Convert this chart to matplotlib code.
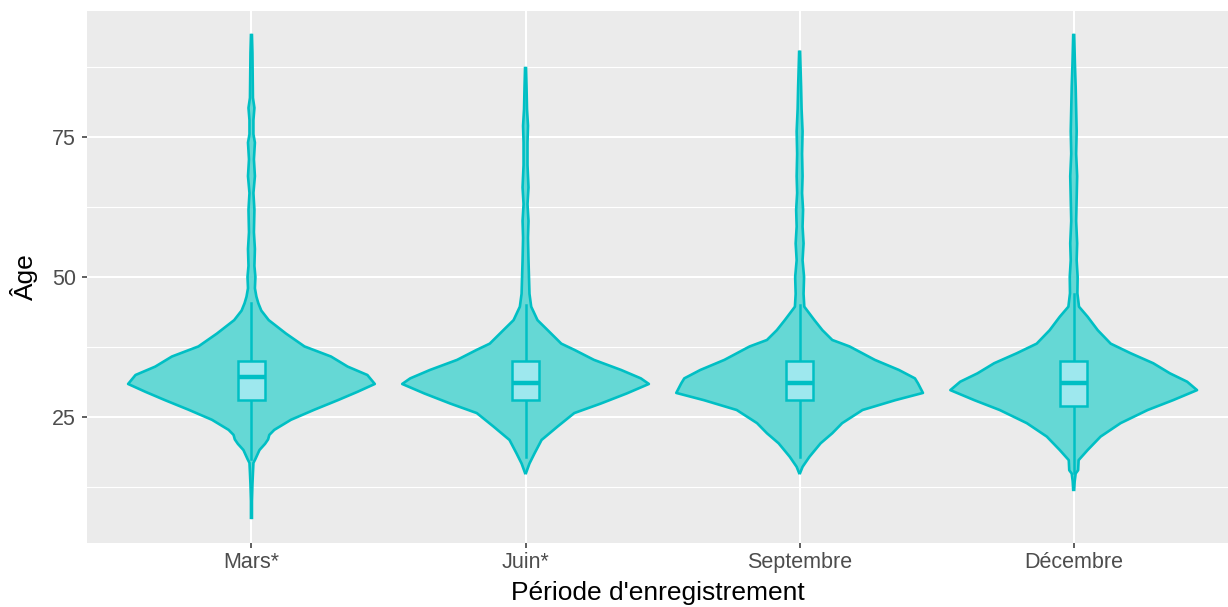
import matplotlib
matplotlib.use('Agg')
from matplotlib import pyplot as plt
from matplotlib.patches import Rectangle

plt.rcParams['font.family'] = ['Liberation Sans', 'DejaVu Sans']

# Categories
months = ['Mars*', 'Juin*', 'Septembre', 'Décembre']

# Violin outlines: age and relative density (1 = widest point)
mars_age = [7.0, 10, 13, 15, 16.8, 17.5, 19.1, 20.2, 21.0, 21.8, 22.7, 24.5, 26.3, 28.0,
            29.5, 30.9, 32.5, 34.0, 35.8, 37.6, 39.9, 42.3, 44.0, 45.3, 46.5, 48, 50, 52,
            55, 58, 62, 65, 68, 71, 74, 75.5, 78, 80.2, 82, 86, 90, 93.2]
mars_dens = [0.004, 0.004, 0.008, 0.012, 0.016, 0.032, 0.065, 0.11, 0.135, 0.145, 0.185,
             0.32, 0.51, 0.70, 0.86, 1.0, 0.94, 0.78, 0.645, 0.43, 0.28, 0.14, 0.08, 0.056,
             0.04, 0.028, 0.032, 0.024, 0.028, 0.02, 0.024, 0.016, 0.028, 0.02, 0.028,
             0.016, 0.016, 0.024, 0.012, 0.01, 0.008, 0.004]

juin_age = [15.0, 16.7, 18.5, 20.9, 23.3, 25.7, 27.4, 29.2, 30.9, 31.9, 33.4, 35.2, 37.0,
            38.1, 40.5, 42.3, 44.7, 47, 50, 53, 57, 60, 63, 66, 70, 74, 77, 80, 84, 87.3]
juin_dens = [0.004, 0.032, 0.073, 0.13, 0.26, 0.395, 0.61, 0.82, 1.0, 0.935, 0.775, 0.555,
             0.395, 0.29, 0.18, 0.097, 0.046, 0.032, 0.028, 0.024, 0.02, 0.024, 0.016,
             0.024, 0.016, 0.016, 0.02, 0.012, 0.008, 0.004]

sept_age = [15.0, 16.1, 17.9, 20.3, 22.1, 23.9, 26.25, 28.0, 29.3, 31.0, 31.9, 33.4, 35.2,
            37.6, 38.75, 40.5, 42.3, 44.7, 47, 50, 53, 56, 59, 62, 65, 68, 72, 76, 80, 84,
            87, 90.2]
sept_dens = [0.004, 0.024, 0.08, 0.17, 0.265, 0.345, 0.51, 0.775, 1.0, 0.96, 0.935, 0.805,
             0.61, 0.405, 0.265, 0.185, 0.12, 0.038, 0.032, 0.036, 0.024, 0.032, 0.024,
             0.028, 0.02, 0.024, 0.02, 0.024, 0.016, 0.012, 0.008, 0.004]

dec_age = [12.0, 13.5, 14.9, 15.5, 17.3, 19.1, 21.5, 23.9, 26.25, 28.0, 29.8, 31.3, 32.8,
           34.6, 36.4, 38.1, 40.5, 42.9, 44.7, 47.1, 50, 53, 56, 60, 64, 68, 72, 76, 80,
           84, 88, 93.2]
dec_dens = [0.004, 0.008, 0.016, 0.036, 0.04, 0.113, 0.218, 0.38, 0.6, 0.805, 1.0, 0.92,
            0.78, 0.645, 0.46, 0.3, 0.195, 0.113, 0.043, 0.03, 0.032, 0.024, 0.028, 0.02,
            0.024, 0.028, 0.02, 0.024, 0.02, 0.016, 0.01, 0.004]

violin_ages = [mars_age, juin_age, sept_age, dec_age]
violin_dens = [mars_dens, juin_dens, sept_dens, dec_dens]

# Box plot statistics
q1 = [28.0, 28.0, 28.0, 27.0]
medians = [32.1, 31.0, 31.0, 31.0]
q3 = [35.0, 35.0, 35.0, 35.0]
whisker_low = [17.5, 17.9, 17.9, 15.0]
whisker_high = [45.3, 45.0, 45.0, 47.0]

edge = '#00BFC4'
violin_fill = '#65D8D5'
box_fill = '#9EE8EE'


def draw_chart():
    fig = plt.figure(figsize=(12.28, 6.07), dpi=100)
    ax = fig.add_axes([87 / 1228, 64 / 607, 1141 / 1228, 532 / 607])
    ax.set_facecolor('#EBEBEB')

    positions = range(1, len(months) + 1)
    for x, ages, dens in zip(positions, violin_ages, violin_dens):
        half = [0.45 * d for d in dens]
        left = [x - h for h in half]
        right = [x + h for h in half]
        ax.fill_betweenx(ages, left, right, facecolor=violin_fill, edgecolor='none', zorder=2)
        ax.plot(left, ages, color=edge, lw=1.9, zorder=3, solid_joinstyle='round')
        ax.plot(right, ages, color=edge, lw=1.9, zorder=3, solid_joinstyle='round')

    for i, x in enumerate(positions):
        ax.plot([x, x], [whisker_low[i], q1[i]], color=edge, lw=1.8, zorder=4)
        ax.plot([x, x], [q3[i], whisker_high[i]], color=edge, lw=1.8, zorder=4)
        ax.add_patch(Rectangle((x - 0.05, q1[i]), 0.1, q3[i] - q1[i], facecolor=box_fill,
                               edgecolor=edge, lw=1.8, zorder=5))
        ax.plot([x - 0.05, x + 0.05], [medians[i], medians[i]], color=edge, lw=3.2,
                zorder=6, solid_capstyle='butt')

    # Axes styling, ggplot look
    ax.set_xlim(0.4, 4.563)
    ax.set_ylim(2.5, 97.5)
    ax.set_xticks(list(positions))
    ax.set_xticklabels(months)
    ax.set_yticks([25, 50, 75])
    ax.set_yticks([12.5, 37.5, 62.5, 87.5], minor=True)
    ax.grid(which='major', color='white', lw=1.5, zorder=0)
    ax.grid(which='minor', axis='y', color='white', lw=0.8, zorder=0)
    ax.set_axisbelow(True)
    for s in ax.spines.values():
        s.set_visible(False)
    ax.tick_params(axis='both', which='major', length=3.6, width=1.1, color='#333333',
                   labelsize=15.5, labelcolor='#4D4D4D')
    ax.tick_params(axis='x', pad=3)
    ax.tick_params(axis='y', pad=4.5)
    ax.tick_params(which='minor', length=0)

    ax.set_xlabel("Période d'enregistrement", fontsize=19, color='black', va='center')
    ax.xaxis.set_label_coords(0.5, -0.094)
    ax.set_ylabel('Âge', fontsize=19, color='black', va='center')
    ax.yaxis.set_label_coords(-0.0552, 0.5)

    fig.savefig('out.png', dpi=100)


def main():
    draw_chart()


if __name__ == '__main__':
    main()
